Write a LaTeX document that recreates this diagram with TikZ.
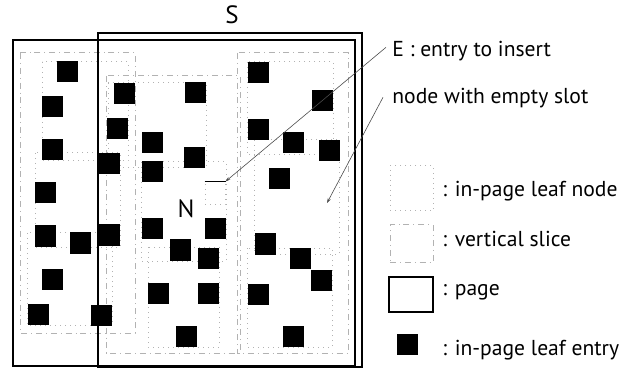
\documentclass[tikz,border=0pt]{standalone}
\usepackage{fontspec}
\setmainfont{PT Sans}
\usetikzlibrary{arrows.meta}

\begin{document}
\begin{tikzpicture}[x=0.5pt,y=-0.5pt,
  page/.style={draw=black,line width=0.9pt},
  leafnode/.style={draw=gray!60,dotted,line width=0.5pt},
  slice/.style={draw=gray!60,dash dot,line width=0.5pt},
  entry/.style={fill=black,minimum size=10.5pt,inner sep=0pt},
  pointer/.style={-{Stealth[length=2.5pt,width=1.6pt]},line width=0.3pt,black!70},
  lbl/.style={font=\fontsize{10.8}{13}\selectfont,anchor=base west,inner sep=0pt}]
  \useasboundingbox (0,0) rectangle (635,368);
  % vertical slices
  \draw[slice] (20,53) rectangle (135,333);
  \draw[slice] (106,76) rectangle (240,353);
  \draw[slice] (237,53) rectangle (348,353);
  % in-page leaf nodes
  \draw[leafnode] (42,62) rectangle (128,161);
  \draw[leafnode] (35,153) rectangle (120,247);
  \draw[leafnode] (27,233) rectangle (112,325);
  \draw[leafnode] (108,83) rectangle (206,168);
  \draw[leafnode] (141,162) rectangle (226,261);
  \draw[leafnode] (148,247) rectangle (219,347);
  \draw[leafnode] (247,62) rectangle (333,155);
  \draw[leafnode] (254,140) rectangle (339,254);
  \draw[leafnode] (247,248) rectangle (332,347);
  % entries
  \foreach \x/\y [count=\i] in {67/72,124/94,195/93,52/107,258/73,322/101,117/129,
      52/150,152/143,258/130,293/143,329/151,109/164,194/158,152/172,279/179,45/193,
      45/236,80/243,109/235,152/229,215/229,180/250,208/258,265/244,300/258,321/280,
      52/279,158/293,208/293,258/294,38/314,101/315,186/336,293/336}
    \node[entry] (e\i) at (\x,\y) {};
  % pages
  \draw[page] (13,40) rectangle (355,366);
  \draw[page] (98,33) rectangle (362,367);
  \node[font=\fontsize{12.5}{14}\selectfont] (S) at (232,15) {S};
  % node N and entry E
  \node[font=\fontsize{12.5}{14}\selectfont] (N) at (186,209) {N};
  \node[leafnode,minimum width=10pt,minimum height=11.5pt,inner sep=0pt] (ebox) at (215,193.5) {};
  \draw[line width=0.5pt] (ebox.north west) -- (ebox.north east);
  \coordinate (slot) at (327,203);
  % labels
  \node[lbl] (lblE) at (392,57) {E : entry to insert};
  \node[lbl] (lblN) at (392,104) {node with empty slot};
  \draw[pointer] ([shift={(-6,6)}]lblE.north west) -- (ebox.north east);
  \draw[pointer] ([shift={(-9,9)}]lblN.north west) -- (slot);
  % legend
  \node[leafnode,minimum width=21.5pt,minimum height=22.5pt,inner sep=0pt] (keyleaf) at (411.5,188.5) {};
  \node[slice,minimum width=21.5pt,minimum height=18.5pt,inner sep=0pt] (keyslice) at (411.5,243.5) {};
  \node[page,minimum width=22pt,minimum height=17.5pt,inner sep=0pt] (keypage) at (411,294.5) {};
  \node[entry] (keyentry) at (407,344) {};
  \node[lbl] (txtleaf) at (442,197) {: in-page leaf node};
  \node[lbl] (txtslice) at (442,247) {: vertical slice};
  \node[lbl] (txtpage) at (442,295) {: page};
  \node[lbl] (txtentry) at (442,355) {: in-page leaf entry};
\end{tikzpicture}
\end{document}
